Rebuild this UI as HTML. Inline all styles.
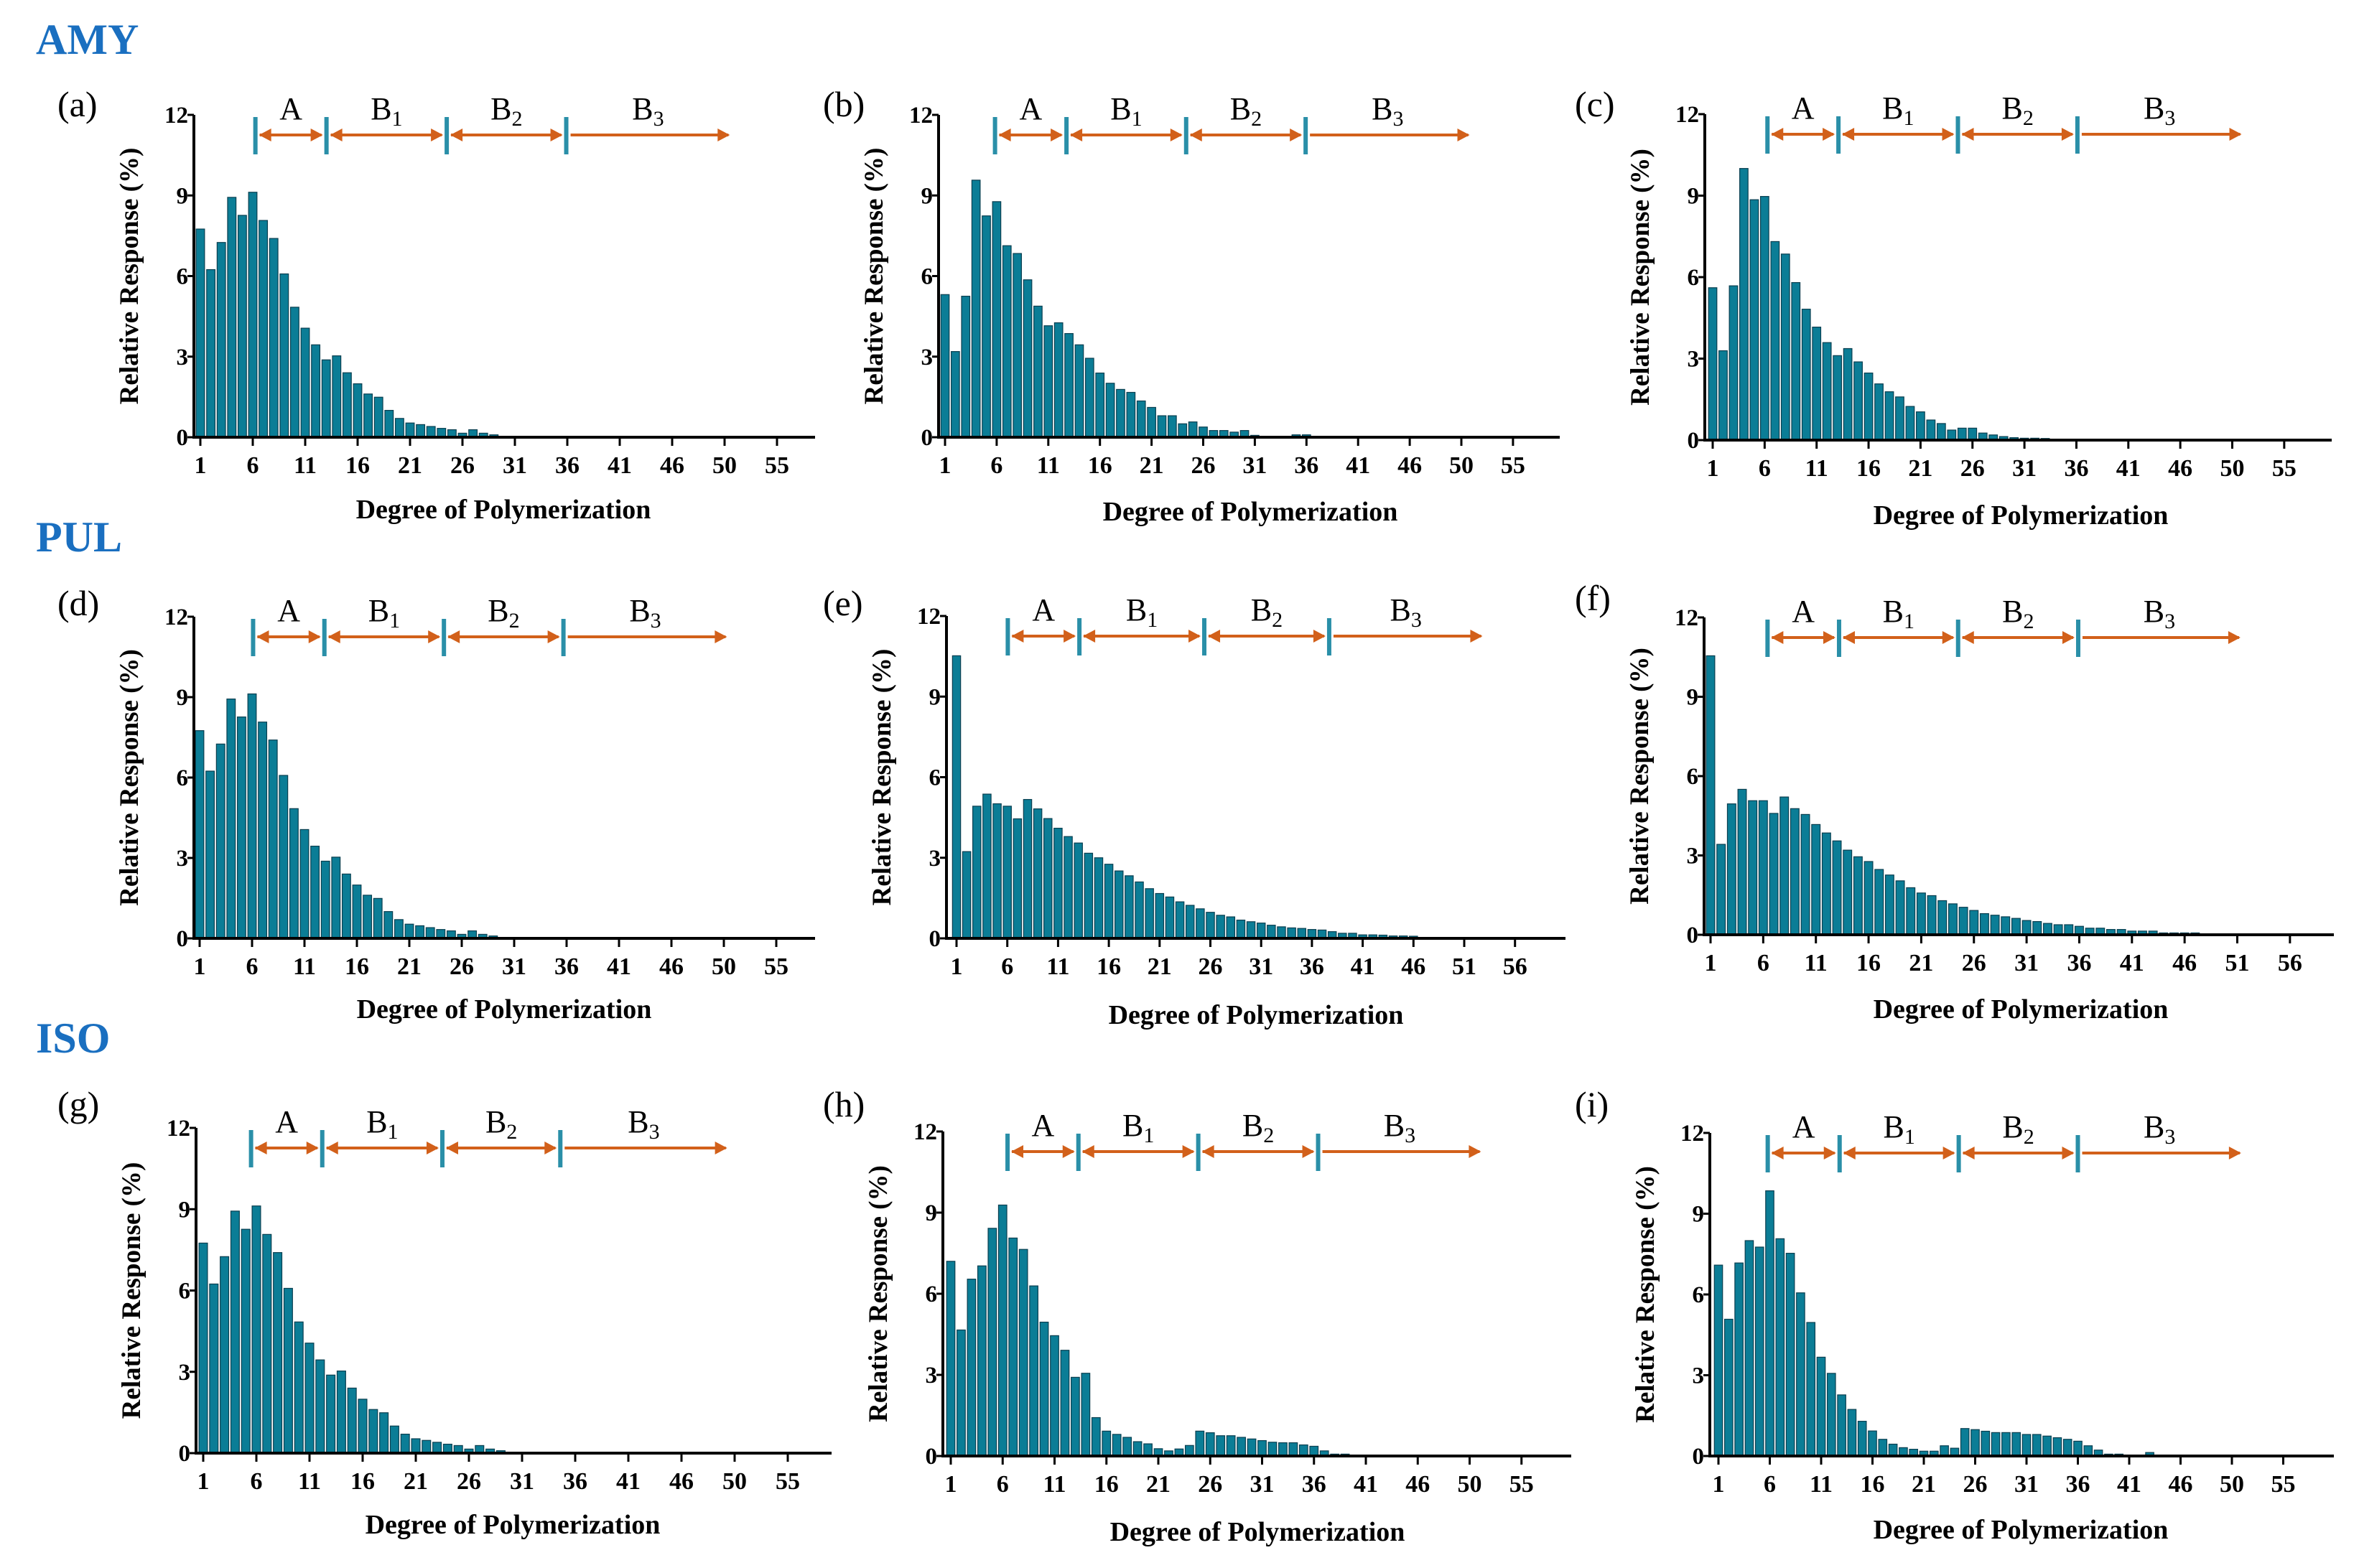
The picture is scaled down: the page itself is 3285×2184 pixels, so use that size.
<!DOCTYPE html>
<html><head><meta charset="utf-8">
<style>
html,body{margin:0;padding:0;background:#fff;}
svg{display:block;font-family:"Liberation Serif","DejaVu Serif",serif;}
svg text{font-family:"Liberation Serif","DejaVu Serif",serif;}
</style></head>
<body>
<svg id="fig" width="3285" height="2184" viewBox="0 0 3285 2184" xmlns="http://www.w3.org/2000/svg" font-family="Liberation Serif, serif">
<rect width="3285" height="2184" fill="#fff"/>
<text x="50" y="75" font-size="60" font-weight="bold" fill="#1a6fc0" font-family="Liberation Serif, serif">AMY</text>
<text x="50" y="768" font-size="60" font-weight="bold" fill="#1a6fc0" font-family="Liberation Serif, serif">PUL</text>
<text x="50" y="1466" font-size="60" font-weight="bold" fill="#1a6fc0" font-family="Liberation Serif, serif">ISO</text>
</svg>
<script>
// ---- data (relative response %, DP = 1,2,3,...) ----
const seriesA = [7.75,6.24,7.25,8.93,8.26,9.12,8.07,7.40,6.08,4.84,4.06,3.44,2.88,3.03,2.40,1.99,1.61,1.49,1.0,0.7,0.53,0.47,0.4,0.33,0.28,0.15,0.28,0.15,0.09,0.03];
const seriesB = [5.31,3.19,5.25,9.57,8.24,8.77,7.13,6.84,5.86,4.88,4.15,4.26,3.86,3.44,2.94,2.39,2.01,1.78,1.67,1.35,1.11,0.80,0.80,0.50,0.57,0.38,0.25,0.25,0.19,0.25,0.07,0.02,0.02,0.02,0.09,0.09];
const seriesC = [5.61,3.29,5.68,10.0,8.85,8.97,7.31,6.85,5.80,4.82,4.16,3.59,3.11,3.37,2.88,2.47,2.07,1.78,1.59,1.24,1.04,0.74,0.61,0.37,0.44,0.44,0.26,0.19,0.13,0.09,0.07,0.07,0.06];
const seriesD = [7.75,6.24,7.25,8.93,8.26,9.12,8.07,7.40,6.08,4.84,4.06,3.44,2.88,3.03,2.40,1.99,1.61,1.49,1.0,0.7,0.53,0.47,0.4,0.33,0.28,0.15,0.28,0.15,0.09,0.03];
const seriesE = [10.52,3.23,4.92,5.37,5.01,4.92,4.45,5.17,4.82,4.46,4.10,3.79,3.55,3.17,3.0,2.76,2.51,2.33,2.10,1.85,1.67,1.54,1.36,1.23,1.10,0.97,0.86,0.80,0.68,0.62,0.57,0.49,0.43,0.39,0.37,0.33,0.31,0.25,0.19,0.19,0.13,0.13,0.12,0.09,0.09,0.08];
const seriesF = [10.55,3.42,4.95,5.50,5.07,5.07,4.59,5.21,4.77,4.55,4.17,3.85,3.55,3.20,2.95,2.77,2.47,2.26,2.04,1.78,1.58,1.48,1.29,1.17,1.04,0.92,0.80,0.74,0.68,0.62,0.54,0.50,0.43,0.38,0.38,0.32,0.25,0.25,0.20,0.20,0.14,0.14,0.14,0.07,0.07,0.07,0.07];
const seriesG = [7.75,6.24,7.25,8.93,8.26,9.12,8.07,7.40,6.08,4.84,4.06,3.44,2.88,3.03,2.40,1.99,1.61,1.49,1.0,0.7,0.53,0.47,0.4,0.33,0.28,0.15,0.28,0.15,0.09,0.03];
const seriesH = [7.2,4.66,6.54,7.03,8.42,9.28,8.06,7.64,6.29,4.95,4.45,3.91,2.91,3.06,1.42,0.92,0.8,0.69,0.53,0.45,0.27,0.19,0.26,0.39,0.92,0.86,0.75,0.75,0.69,0.63,0.57,0.51,0.49,0.49,0.41,0.36,0.19,0.07,0.07];
const seriesI = [7.09,5.08,7.17,8.0,7.76,9.85,8.07,7.53,6.06,4.96,3.67,3.07,2.27,1.73,1.29,0.93,0.62,0.44,0.31,0.25,0.18,0.18,0.38,0.29,1.02,0.98,0.92,0.87,0.87,0.87,0.8,0.8,0.74,0.68,0.62,0.55,0.38,0.22,0.07,0.07,0,0,0.13];
const yTickValues = [0,3,6,9,12];
const xTickLabels55 = ["1","6","11","16","21","26","31","36","41","46","50","55"];
const xTickLabels56 = ["1","6","11","16","21","26","31","36","41","46","51","56"];
const regionNames = ["A","B1","B2","B3"];
const boundsA = [6.25,13.03,24.5,35.9,51.5];
const boundsB = [5.84,12.76,24.35,35.92,51.8];
const boundsC = [6.27,13.1,24.6,36.1,51.9];
const boundsD = [6.1,12.9,24.3,35.7,51.3];
const boundsE = [6.05,13.1,25.4,37.7,52.8];
const boundsF = [6.41,13.2,24.5,35.9,51.3];
const boundsG = [5.5,12.2,23.5,34.6,50.3];
const boundsH = [6.47,13.3,24.85,36.4,52.1];
const boundsI = [5.8,12.8,24.4,36.0,51.9];

// ---- layout (pixel geometry) ----
const panels = [
 {id:'a',data:seriesA,bounds:boundsA,ticks:xTickLabels55,ax:270,y0:609,top:160,t1:279,sp:14.6,end:1135,letter:[80,162],xt:[701,722]},
 {id:'b',data:seriesB,bounds:boundsB,ticks:xTickLabels55,ax:1307,y0:609,top:160,t1:1316,sp:14.38,end:2172,letter:[1146,162],xt:[1741,725]},
 {id:'c',data:seriesC,bounds:boundsC,ticks:xTickLabels55,ax:2374,y0:613,top:159,t1:2385,sp:14.47,end:3247,letter:[2193,162],xt:[2814,730]},
 {id:'d',data:seriesD,bounds:boundsD,ticks:xTickLabels55,ax:270,y0:1307,top:859,t1:278,sp:14.6,end:1135,letter:[80,857],xt:[702,1418]},
 {id:'e',data:seriesE,bounds:boundsE,ticks:xTickLabels56,ax:1318,y0:1307,top:858,t1:1332,sp:14.14,end:2180,letter:[1146,857],xt:[1749,1426]},
 {id:'f',data:seriesF,bounds:boundsF,ticks:xTickLabels56,ax:2373,y0:1302,top:860,t1:2382,sp:14.67,end:3250,letter:[2193,850],xt:[2814,1418]},
 {id:'g',data:seriesG,bounds:boundsG,ticks:xTickLabels55,ax:273,y0:2024,top:1571,t1:283,sp:14.8,end:1158,letter:[80,1555],xt:[714,2136]},
 {id:'h',data:seriesH,bounds:boundsH,ticks:xTickLabels55,ax:1313,y0:2028,top:1576,t1:1324,sp:14.45,end:2188,letter:[1146,1555],xt:[1751,2146]},
 {id:'i',data:seriesI,bounds:boundsI,ticks:xTickLabels55,ax:2381,y0:2028,top:1578,t1:2393,sp:14.3,end:3250,letter:[2193,1555],xt:[2814,2143]}
];
const NS='http://www.w3.org/2000/svg';
const FF='Liberation Serif, serif';
const svg=document.getElementById('fig');
function mk(tag,attrs,parent){const e=document.createElementNS(NS,tag);for(const k in attrs)e.setAttribute(k,attrs[k]);if(tag==='text')e.setAttribute('font-family',FF);(parent||svg).appendChild(e);return e;}

panels.forEach(p=>{
  const g=mk('g',{});
  
  
  const xs=dp=>p.t1+(dp-1)*p.sp;
  const ys=v=>p.y0-(v/12)*(p.y0-p.top);
  p.data.forEach((v,i)=>{
    if(v<=0) return;
    const bw=p.sp*0.8;
    const r=mk('rect',{x:xs(i+1)-bw/2,y:ys(v),width:bw,height:p.y0-ys(v),fill:'#0b7d96',stroke:'#0b3f50','stroke-width':1.2},g);
    
    
  });
  const ya=mk('line',{x1:p.ax,y1:p.top,x2:p.ax,y2:p.y0+2,stroke:'#000','stroke-width':4},g);
  
  
  const xa=mk('line',{x1:p.ax-2,y1:p.y0,x2:p.end,y2:p.y0,stroke:'#000','stroke-width':4},g);
  
  
  yTickValues.forEach(v=>{
    mk('line',{x1:p.ax-9,y1:ys(v),x2:p.ax,y2:ys(v),stroke:'#000','stroke-width':3},g);
    const t=mk('text',{x:p.ax-8,y:ys(v)+11,'font-size':33,'font-weight':'bold','text-anchor':'end'},g);
    t.textContent=String(v);
    
    
  });
  p.ticks.forEach((lab,k)=>{
    const x=xs(1+5*k);
    mk('line',{x1:x,y1:p.y0,x2:x,y2:p.y0+12,stroke:'#000','stroke-width':3},g);
    const t=mk('text',{x:x,y:p.y0+50,'font-size':34,'font-weight':'bold','text-anchor':'middle'},g);
    t.textContent=lab;
    
    
  });
  const cy=(p.top+p.y0)/2;
  const yt=mk('text',{x:p.ax-78,y:cy,'font-size':37,'font-weight':'bold','text-anchor':'middle',transform:'rotate(-90 '+(p.ax-78)+' '+cy+')'},g);
  yt.textContent='Relative Response (%)';
  
  
  const xt=mk('text',{x:p.xt[0],y:p.xt[1],'font-size':38,'font-weight':'bold','text-anchor':'middle'},g);
  xt.textContent='Degree of Polymerization';
  
  
  const lt=mk('text',{x:p.letter[0],y:p.letter[1],'font-size':50},g);
  lt.textContent='('+p.id+')';
  
  
  const ay=p.top+28;
  const bx=p.bounds.map(xs);
  const OR='#d2601a';
  for(let k=0;k<4;k++){
    const x1=bx[k]+5, x2=bx[k+1]-(k<3?5:0);
    const ln=mk('line',{x1:x1+1,y1:ay,x2:x2-2,y2:ay,stroke:OR,'stroke-width':4},g);
    
    
    if(k<3) mk('polygon',{points:`${x1},${ay} ${x1+17},${ay-9} ${x1+17},${ay+9}`,fill:OR},g);
    mk('polygon',{points:`${x2},${ay} ${x2-17},${ay-9} ${x2-17},${ay+9}`,fill:OR},g);
    const lab=mk('text',{x:(bx[k]+bx[k+1])/2,y:ay-22,'font-size':44,'text-anchor':'middle'},g);
    
    
    const nm=regionNames[k];
    lab.appendChild(document.createTextNode(nm[0]));
    if(nm.length>1){const s=mk('tspan',{'font-size':30,dy:9},lab);s.textContent=nm.slice(1);}
  }
  for(let k=0;k<4;k++){
    const m=mk('line',{x1:bx[k],y1:ay-25,x2:bx[k],y2:ay+27,stroke:'#2a8fa8','stroke-width':6},g);
    
    
  }
});
</script>
</body></html>
